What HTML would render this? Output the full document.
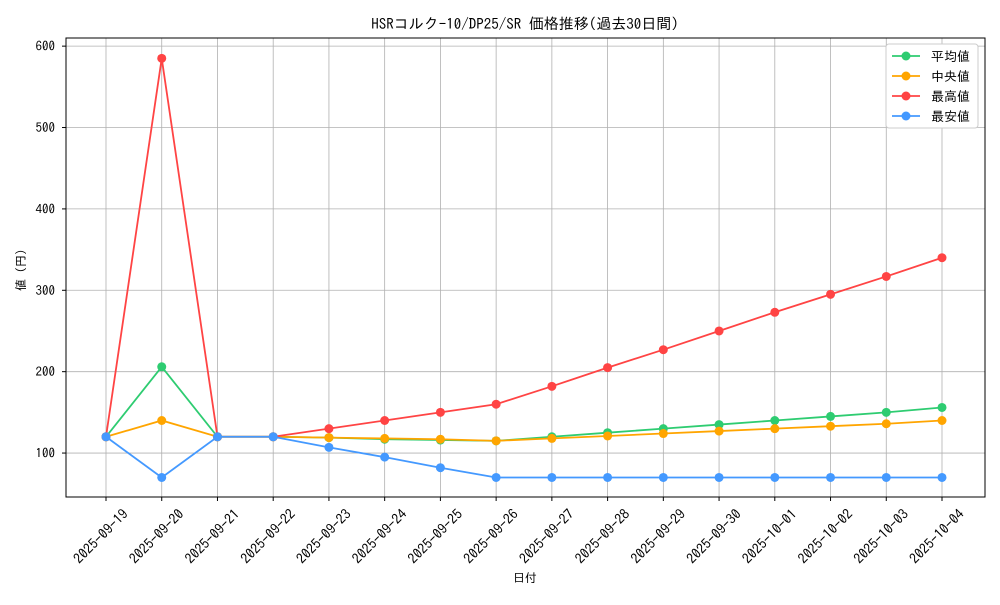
<!DOCTYPE html>
<html><head><meta charset="utf-8"><style>
body{margin:0;background:#fff;}
svg text{font-family:"IPAGothic","Liberation Mono","Noto Sans CJK JP",monospace;}
</style></head><body>
<svg id="chart" width="1000" height="600" xmlns="http://www.w3.org/2000/svg"></svg>
<script>
const categories=["2025-09-19","2025-09-20","2025-09-21","2025-09-22","2025-09-23","2025-09-24","2025-09-25","2025-09-26","2025-09-27","2025-09-28","2025-09-29","2025-09-30","2025-10-01","2025-10-02","2025-10-03","2025-10-04"];
const avgValues=[120,206,120,120,119,117,116,115,120,125,130,135,140,145,150,156];
const medianValues=[120,140,120,120,119,118,117,115,118,121,124,127,130,133,136,140];
const maxValues=[120,585,120,120,130,140,150,160,182,205,227,250,273,295,317,340];
const minValues=[120,70,120,120,107,95,82,70,70,70,70,70,70,70,70,70];
const yTicks=[100,200,300,400,500,600];
const seriesNames=["平均値","中央値","最高値","最安値"];
const NS="http://www.w3.org/2000/svg";
const svg=document.getElementById('chart');
const L=66,R=985,T=38,B=497,yMin=46,yMax=610;
const xs=i=>106+i*(942-106)/(categories.length-1);
const ys=v=>B-(v-yMin)/(yMax-yMin)*(B-T);
function mk(tag,attrs,parent){const e=document.createElementNS(NS,tag);for(const k in attrs)e.setAttribute(k,attrs[k]);(parent||svg).appendChild(e);return e;}
categories.forEach((c,i)=>{const g=mk('line',{x1:xs(i),x2:xs(i),y1:T,y2:B,stroke:'#b0b0b0','stroke-width':0.8});

});
yTicks.forEach(v=>{const g=mk('line',{x1:L,x2:R,y1:ys(v),y2:ys(v),stroke:'#b0b0b0','stroke-width':0.8});

});
const frame=mk('rect',{x:L,y:T,width:R-L,height:B-T,fill:'none',stroke:'#000','stroke-width':1});


yTicks.forEach(v=>{mk('line',{x1:L-4,x2:L,y1:ys(v),y2:ys(v),stroke:'#000'});
const t=mk('text',{x:L-11,y:ys(v)+4.5,'text-anchor':'end','font-size':13});t.textContent=v;

});
categories.forEach((c,i)=>{mk('line',{x1:xs(i),x2:xs(i),y1:B,y2:B+4,stroke:'#000'});
const px=xs(i)+23,py=B+18;
const t=mk('text',{x:px,y:py,'text-anchor':'end','font-size':14,transform:`rotate(-45 ${px} ${py})`});t.textContent=c;

});
let t=mk('text',{x:525,y:29,'text-anchor':'middle','font-size':15});t.textContent="HSRコルク-10/DP25/SR 価格推移(過去30日間)";


t=mk('text',{x:525,y:582,'text-anchor':'middle','font-size':12});t.textContent="日付";


t=mk('text',{x:25,y:270,'text-anchor':'middle','font-size':12,transform:'rotate(-90 25 270)'});t.textContent="値 (円)";


const series=[[avgValues,'#2ecc71'],[medianValues,'#ffa500'],[maxValues,'#ff4444'],[minValues,'#4499ff']];
[0,1,2,3].forEach(si=>{const [vals,col]=series[si];
const p=mk('polyline',{points:vals.map((v,i)=>xs(i)+','+ys(v)).join(' '),fill:'none',stroke:col,'stroke-width':1.8});


vals.forEach((v,i)=>{const c=mk('circle',{cx:xs(i),cy:ys(v),r:4.5,fill:col});

});});
const lg=mk('g',{});


mk('rect',{x:886,y:44,width:92,height:84,fill:'#fff',stroke:'#ccc',rx:3},lg);
series.forEach(([v,col],i)=>{const y=56+i*20;
const e=mk('g',{},lg);


mk('line',{x1:892,x2:920,y1:y,y2:y,stroke:col,'stroke-width':1.8},e);
mk('circle',{cx:906,cy:y,r:4.5,fill:col},e);
const tx=mk('text',{x:931,y:y+5,'font-size':13},e);tx.textContent=(i==1?' ':'')+seriesNames[i];});
</script>
</body></html>
